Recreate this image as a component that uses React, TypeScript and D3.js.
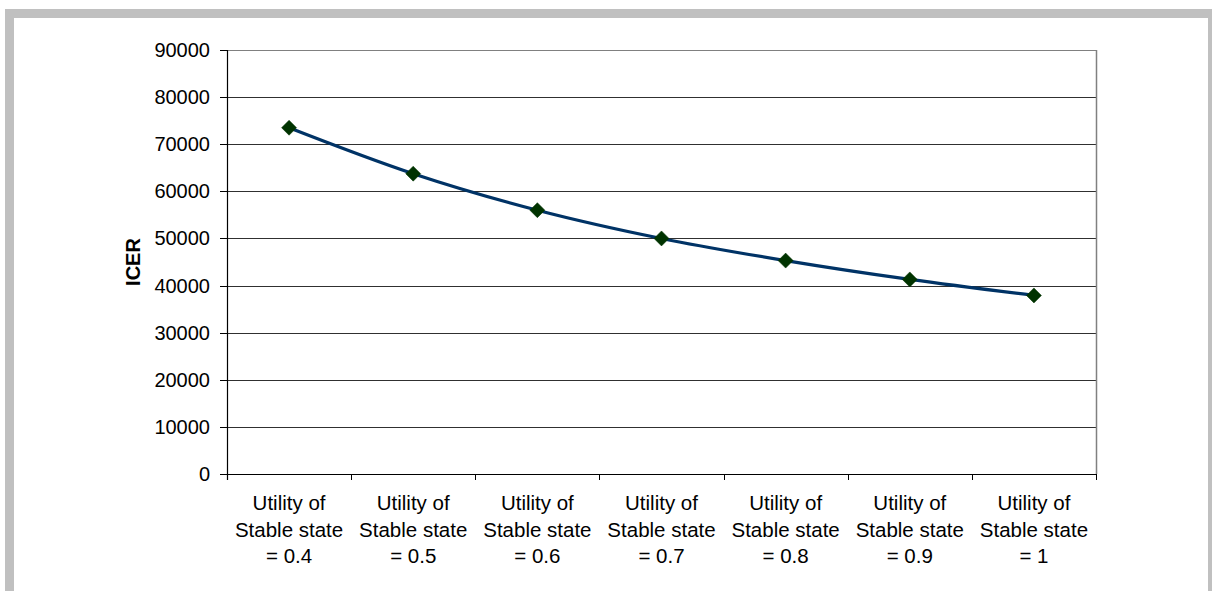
import React from "react";
import * as d3 from "d3";

const categories = [
  "Utility of|Stable state|= 0.4",
  "Utility of|Stable state|= 0.5",
  "Utility of|Stable state|= 0.6",
  "Utility of|Stable state|= 0.7",
  "Utility of|Stable state|= 0.8",
  "Utility of|Stable state|= 0.9",
  "Utility of|Stable state|= 1",
];
const icerValues = [73500, 63750, 56000, 50000, 45300, 41300, 37900];
const yTicks = [0, 10000, 20000, 30000, 40000, 50000, 60000, 70000, 80000, 90000];
const yAxisTitle = "ICER";

const W = 1212;
const H = 591;
const left = 227;
const right = 1096;
const top = 50;
const bottom = 474;
const font = "'Liberation Sans', Arial, sans-serif";

export default function App() {
  const x = d3.scaleBand<string>().domain(categories).range([left, right]).padding(0);
  const y = d3.scaleLinear().domain([0, 90000]).range([bottom, top]);
  const line = d3
    .line<number>()
    .x((_, i) => (x(categories[i]) as number) + x.bandwidth() / 2)
    .y((d) => y(d))
    .curve(d3.curveCatmullRom.alpha(0.5));
  const boundaries = categories.map((c) => x(c) as number).concat([right]);
  const dSize = 7.5;

  return (
    <svg
      width={W}
      height={H}
      style={{ position: "absolute", left: 0, top: 0, background: "#fff" }}
      fontFamily={font}
    >
      <rect x={9.5} y={13.5} width={1203} height={620} fill="#fff" stroke="#c0c0c0" strokeWidth={9} />
      {yTicks.slice(1).map((t) => (
        <line key={"g" + t} x1={left} x2={right} y1={Math.round(y(t)) + 0.5} y2={Math.round(y(t)) + 0.5} stroke={t === 90000 ? "#808080" : "#303030"} strokeWidth={1} />
      ))}
      <line x1={right + 0.5} x2={right + 0.5} y1={top} y2={bottom} stroke="#808080" strokeWidth={1.5} />
      <line x1={left + 0.5} x2={left + 0.5} y1={top} y2={bottom + 6} stroke="#000" strokeWidth={1.2} />
      {yTicks.map((t) => (
        <g key={"y" + t}>
          <line x1={left - 7} x2={left} y1={Math.round(y(t)) + 0.5} y2={Math.round(y(t)) + 0.5} stroke="#000" strokeWidth={1} />
          <text x={210} y={y(t)} dy="0.35em" textAnchor="end" fontSize={20} fill="#000">
            {t}
          </text>
        </g>
      ))}
      <line x1={left} x2={right} y1={bottom + 0.5} y2={bottom + 0.5} stroke="#000" strokeWidth={1.2} />
      {boundaries.map((b, i) => (
        <line key={"xt" + i} x1={Math.round(b) + 0.5} x2={Math.round(b) + 0.5} y1={bottom} y2={bottom + 6} stroke="#000" strokeWidth={1} />
      ))}
      {categories.map((c) => {
        const cx = (x(c) as number) + x.bandwidth() / 2;
        return (
          <text key={c} x={cx} y={510} textAnchor="middle" fontSize={20.5} fill="#000">
            {c.split("|").map((ln, j) => (
              <tspan key={j} x={cx} y={510 + j * 26.7}>
                {ln}
              </tspan>
            ))}
          </text>
        );
      })}
      <text
        transform={`translate(140, ${(top + bottom) / 2}) rotate(-90)`}
        textAnchor="middle"
        fontSize={20}
        fontWeight="bold"
        fill="#000"
      >
        {yAxisTitle}
      </text>
      <path d={line(icerValues) || ""} fill="none" stroke="#003366" strokeWidth={3.2} />
      {icerValues.map((v, i) => {
        const cx = (x(categories[i]) as number) + x.bandwidth() / 2;
        const cy = y(v);
        return (
          <path
            key={"m" + i}
            d={`M${cx},${cy - dSize}L${cx + dSize},${cy}L${cx},${cy + dSize}L${cx - dSize},${cy}Z`}
            fill="#003300"
            stroke="#003300"
            strokeWidth={0.5}
          />
        );
      })}
    </svg>
  );
}
